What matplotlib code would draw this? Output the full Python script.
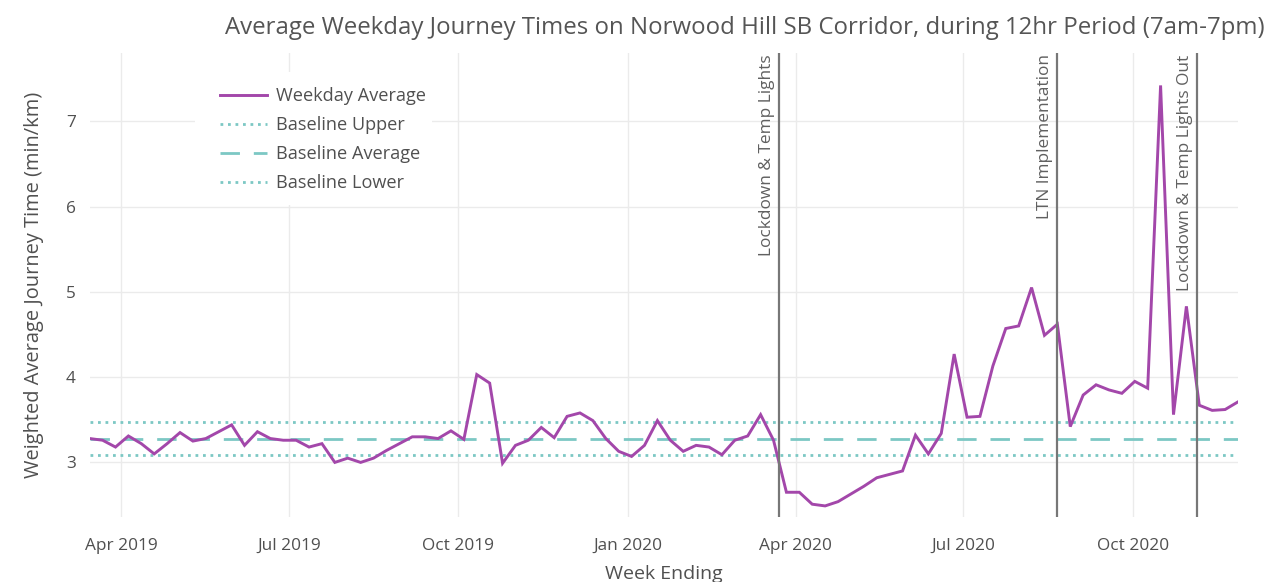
import matplotlib
matplotlib.use("Agg")
import matplotlib.pyplot as plt
import matplotlib.dates as mdates
from matplotlib.patches import Rectangle
import pandas as pd

plt.rcParams['font.family'] = ['Open Sans', 'DejaVu Sans']

# ---- data ----
week_ending = pd.date_range("2019-03-15", periods=90, freq="7D")
weekday_average = [3.28, 3.26, 3.18, 3.31, 3.22, 3.10, 3.22, 3.35, 3.25, 3.28,
                   3.36, 3.44, 3.20, 3.36, 3.28, 3.26, 3.26, 3.18, 3.22, 3.00,
                   3.05, 3.00, 3.05, 3.14, 3.22, 3.30, 3.30, 3.28, 3.37, 3.27,
                   4.03, 3.93, 2.99, 3.20, 3.26, 3.41, 3.29, 3.54, 3.58, 3.49,
                   3.28, 3.13, 3.07, 3.20, 3.49, 3.26, 3.13, 3.20, 3.18, 3.09,
                   3.26, 3.31, 3.56, 3.26, 2.65, 2.65, 2.51, 2.49, 2.54, 2.63,
                   2.72, 2.82, 2.86, 2.90, 3.32, 3.10, 3.34, 4.27, 3.53, 3.54,
                   4.13, 4.57, 4.60, 5.05, 4.49, 4.62, 3.42, 3.79, 3.91, 3.85,
                   3.81, 3.95, 3.87, 7.42, 3.56, 4.83, 3.67, 3.61, 3.62, 3.71]
baseline_upper = 3.47
baseline_average = 3.28
baseline_lower = 3.085

event_dates = ["2020-03-23", "2020-08-21", "2020-11-05"]
event_labels = ["Lockdown & Temp Lights", "LTN Implementation", "Lockdown & Temp Lights Out"]

title = "Average Weekday Journey Times on Norwood Hill SB Corridor, during 12hr Period (7am-7pm)"
x_label = "Week Ending"
y_label = "Weighted Average Journey Time (min/km)"

# ---- style ----
W, H = 1274, 582
purple = "#A347AA"
teal = "#7CC8C4"
txt = "#505050"

fig = plt.figure(figsize=(W / 100, H / 100), dpi=100)
L, R, T, B = 89.7, 1238, 53, 517
ax = fig.add_axes([L / W, 1 - B / H, (R - L) / W, (B - T) / H])

ax.plot(week_ending, weekday_average, color=purple, lw=2.1, zorder=4,
        solid_joinstyle="miter", label="Weekday Average")
ax.axhline(baseline_upper, color=teal, lw=2.0, ls=(0, (1.0, 1.7)), zorder=3, label="Baseline Upper")
ax.axhline(baseline_average, color=teal, lw=2.0, ls=(0, (7, 5)), zorder=3, label="Baseline Average")
ax.axhline(baseline_lower, color=teal, lw=2.0, ls=(0, (1.0, 1.7)), zorder=3, label="Baseline Lower")

for d, lab in zip(event_dates, event_labels):
    dt = pd.Timestamp(d)
    ax.axvline(dt, color="#777777", lw=1.6, zorder=5)
    ax.annotate(lab, xy=(dt, 1), xycoords=("data", "axes fraction"),
                xytext=(-3, -1), textcoords="offset points",
                rotation=90, ha="right", va="top", fontsize=12.4, color="#606060")

ax.set_xlim(week_ending[0], week_ending[-1])
ax.set_ylim(2.36, 7.80)
ax.set_yticks([3, 4, 5, 6, 7])
ax.xaxis.set_major_locator(mdates.MonthLocator(bymonth=[1, 4, 7, 10]))
ax.xaxis.set_major_formatter(mdates.DateFormatter("%b %Y"))

ax.grid(True, color="#ebebeb", lw=1)
ax.set_axisbelow(True)
for s in ax.spines.values():
    s.set_visible(False)
ax.tick_params(length=0, colors=txt, labelsize=12.4)
ax.tick_params(axis="x", pad=15)
ax.tick_params(axis="y", pad=10)

ax.set_xlabel(x_label, fontsize=14, color=txt, labelpad=8)
ax.set_ylabel(y_label, fontsize=14.4, color=txt, labelpad=16)

fig.text(745 / W, 1 - 28 / H, title, ha="center", va="center", fontsize=17.3, color="#555555")

# legend with white background
ax.add_patch(Rectangle((195 / W, 1 - 205 / H), (432 - 195) / W, (205 - 72) / H,
                       transform=fig.transFigure, facecolor="white", edgecolor="none", zorder=1))
leg = ax.legend(loc="upper left", bbox_to_anchor=(220 / W, 1 - 87 / H),
                bbox_transform=fig.transFigure, frameon=False, fontsize=13.1,
                handlelength=2.57, handletextpad=0.5, labelspacing=0.61,
                borderpad=0, borderaxespad=0, labelcolor=txt)

fig.savefig("out.png", dpi=100)
